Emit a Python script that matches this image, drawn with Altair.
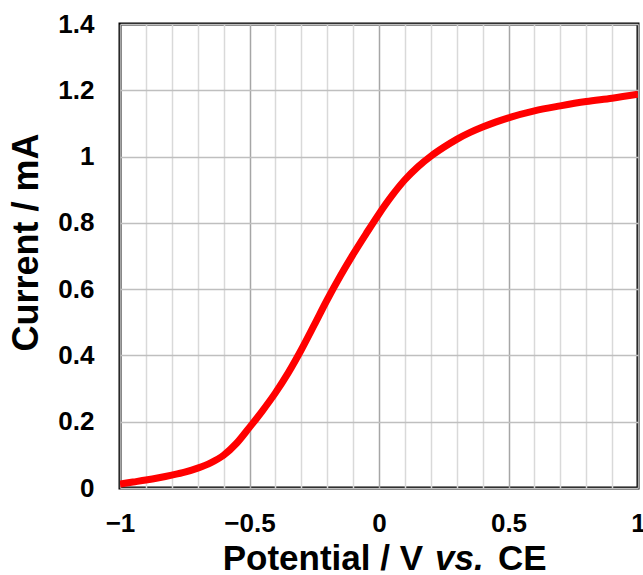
import altair as alt
import pandas as pd

# Linear sweep: potential (V vs. CE) and measured current (mA)
potential = [-1.00, -0.95, -0.90, -0.85, -0.80, -0.75, -0.70, -0.65, -0.60, -0.55,
             -0.50, -0.45, -0.40, -0.35, -0.30, -0.25, -0.20, -0.15, -0.10, -0.05,
             0.00, 0.05, 0.10, 0.15, 0.20, 0.25, 0.30, 0.35, 0.40, 0.45,
             0.50, 0.60, 0.70, 0.80, 0.90, 1.00]
current = [0.012, 0.018, 0.024, 0.031, 0.039, 0.048, 0.060, 0.076, 0.099, 0.135,
           0.183, 0.233, 0.287, 0.348, 0.417, 0.492, 0.568, 0.639, 0.705, 0.767,
           0.827, 0.882, 0.930, 0.969, 1.001, 1.028, 1.052, 1.072, 1.089, 1.104,
           1.117, 1.138, 1.153, 1.166, 1.176, 1.188]

x_ticks = [-1.0, -0.9, -0.8, -0.7, -0.6, -0.5, -0.4, -0.3, -0.2, -0.1,
           0.0, 0.1, 0.2, 0.3, 0.4, 0.5, 0.6, 0.7, 0.8, 0.9, 1.0]
y_ticks = [0.0, 0.2, 0.4, 0.6, 0.8, 1.0, 1.2, 1.4]

title_parts = ["Potential / V", "vs.", "CE"]

df = pd.DataFrame({"potential": potential, "current": current})

FONT = "Liberation Sans"
is_major = "abs(datum.value * 2 - round(datum.value * 2)) < 1e-6"

x_enc = alt.X(
    "potential:Q",
    scale=alt.Scale(domain=[-1, 1], nice=False, zero=False),
    axis=alt.Axis(
        values=x_ticks,
        title=None,
        domain=False,
        ticks=False,
        labelExpr=f"{is_major} ? format(datum.value, '~g') : ''",
        labelFont=FONT, labelFontSize=26, labelFontWeight="bold",
        labelColor="black", labelPadding=22, labelFlush=False,
        labelOverlap=False,
        grid=True,
        gridColor={"condition": {"test": is_major, "value": "#a6a6a6"},
                   "value": "#d9d9d9"},
        gridWidth=1.5,
    ),
)
y_enc = alt.Y(
    "current:Q",
    scale=alt.Scale(domain=[0, 1.4], nice=False),
    axis=alt.Axis(
        values=y_ticks,
        format="~g",
        title="Current / mA",
        titleFont=FONT, titleFontSize=36, titleFontWeight="bold",
        titleColor="black", titlePadding=12, titleY=218,
        domain=False,
        ticks=False,
        labelFont=FONT, labelFontSize=26, labelFontWeight="bold",
        labelColor="black", labelPadding=26, labelFlush=False,
        grid=True, gridColor="#bfbfbf", gridWidth=1.5,
    ),
)

curve = alt.Chart(df).mark_line(
    color="#ff0000", strokeWidth=7, interpolate="monotone", clip=True
).encode(x=x_enc, y=y_enc)

# x-axis title, with "vs." set in italics
tdf = pd.DataFrame({"t": title_parts})
title_style = dict(font=FONT, fontSize=35, fontWeight="bold", color="black",
                   baseline="alphabetic")
t1 = alt.Chart(tdf).transform_filter(alt.datum.t == title_parts[0]).mark_text(
    align="right", **title_style
).encode(text="t:N", x=alt.value(303), y=alt.value(546))
t2 = alt.Chart(tdf).transform_filter(alt.datum.t == title_parts[1]).mark_text(
    align="left", fontStyle="italic", **title_style
).encode(text="t:N", x=alt.value(315), y=alt.value(546))
t3 = alt.Chart(tdf).transform_filter(alt.datum.t == title_parts[2]).mark_text(
    align="left", **title_style
).encode(text="t:N", x=alt.value(378), y=alt.value(546))

chart = alt.layer(curve, t1, t2, t3).properties(
    width=518,
    height=464,
    autosize=alt.AutoSizeParams(type="none"),
    padding={"left": 120, "top": 24, "right": 5, "bottom": 87},
    background="white",
).configure_view(stroke="black", strokeWidth=3)

chart.save("out.html", embed_options={"renderer": "svg", "actions": False})
